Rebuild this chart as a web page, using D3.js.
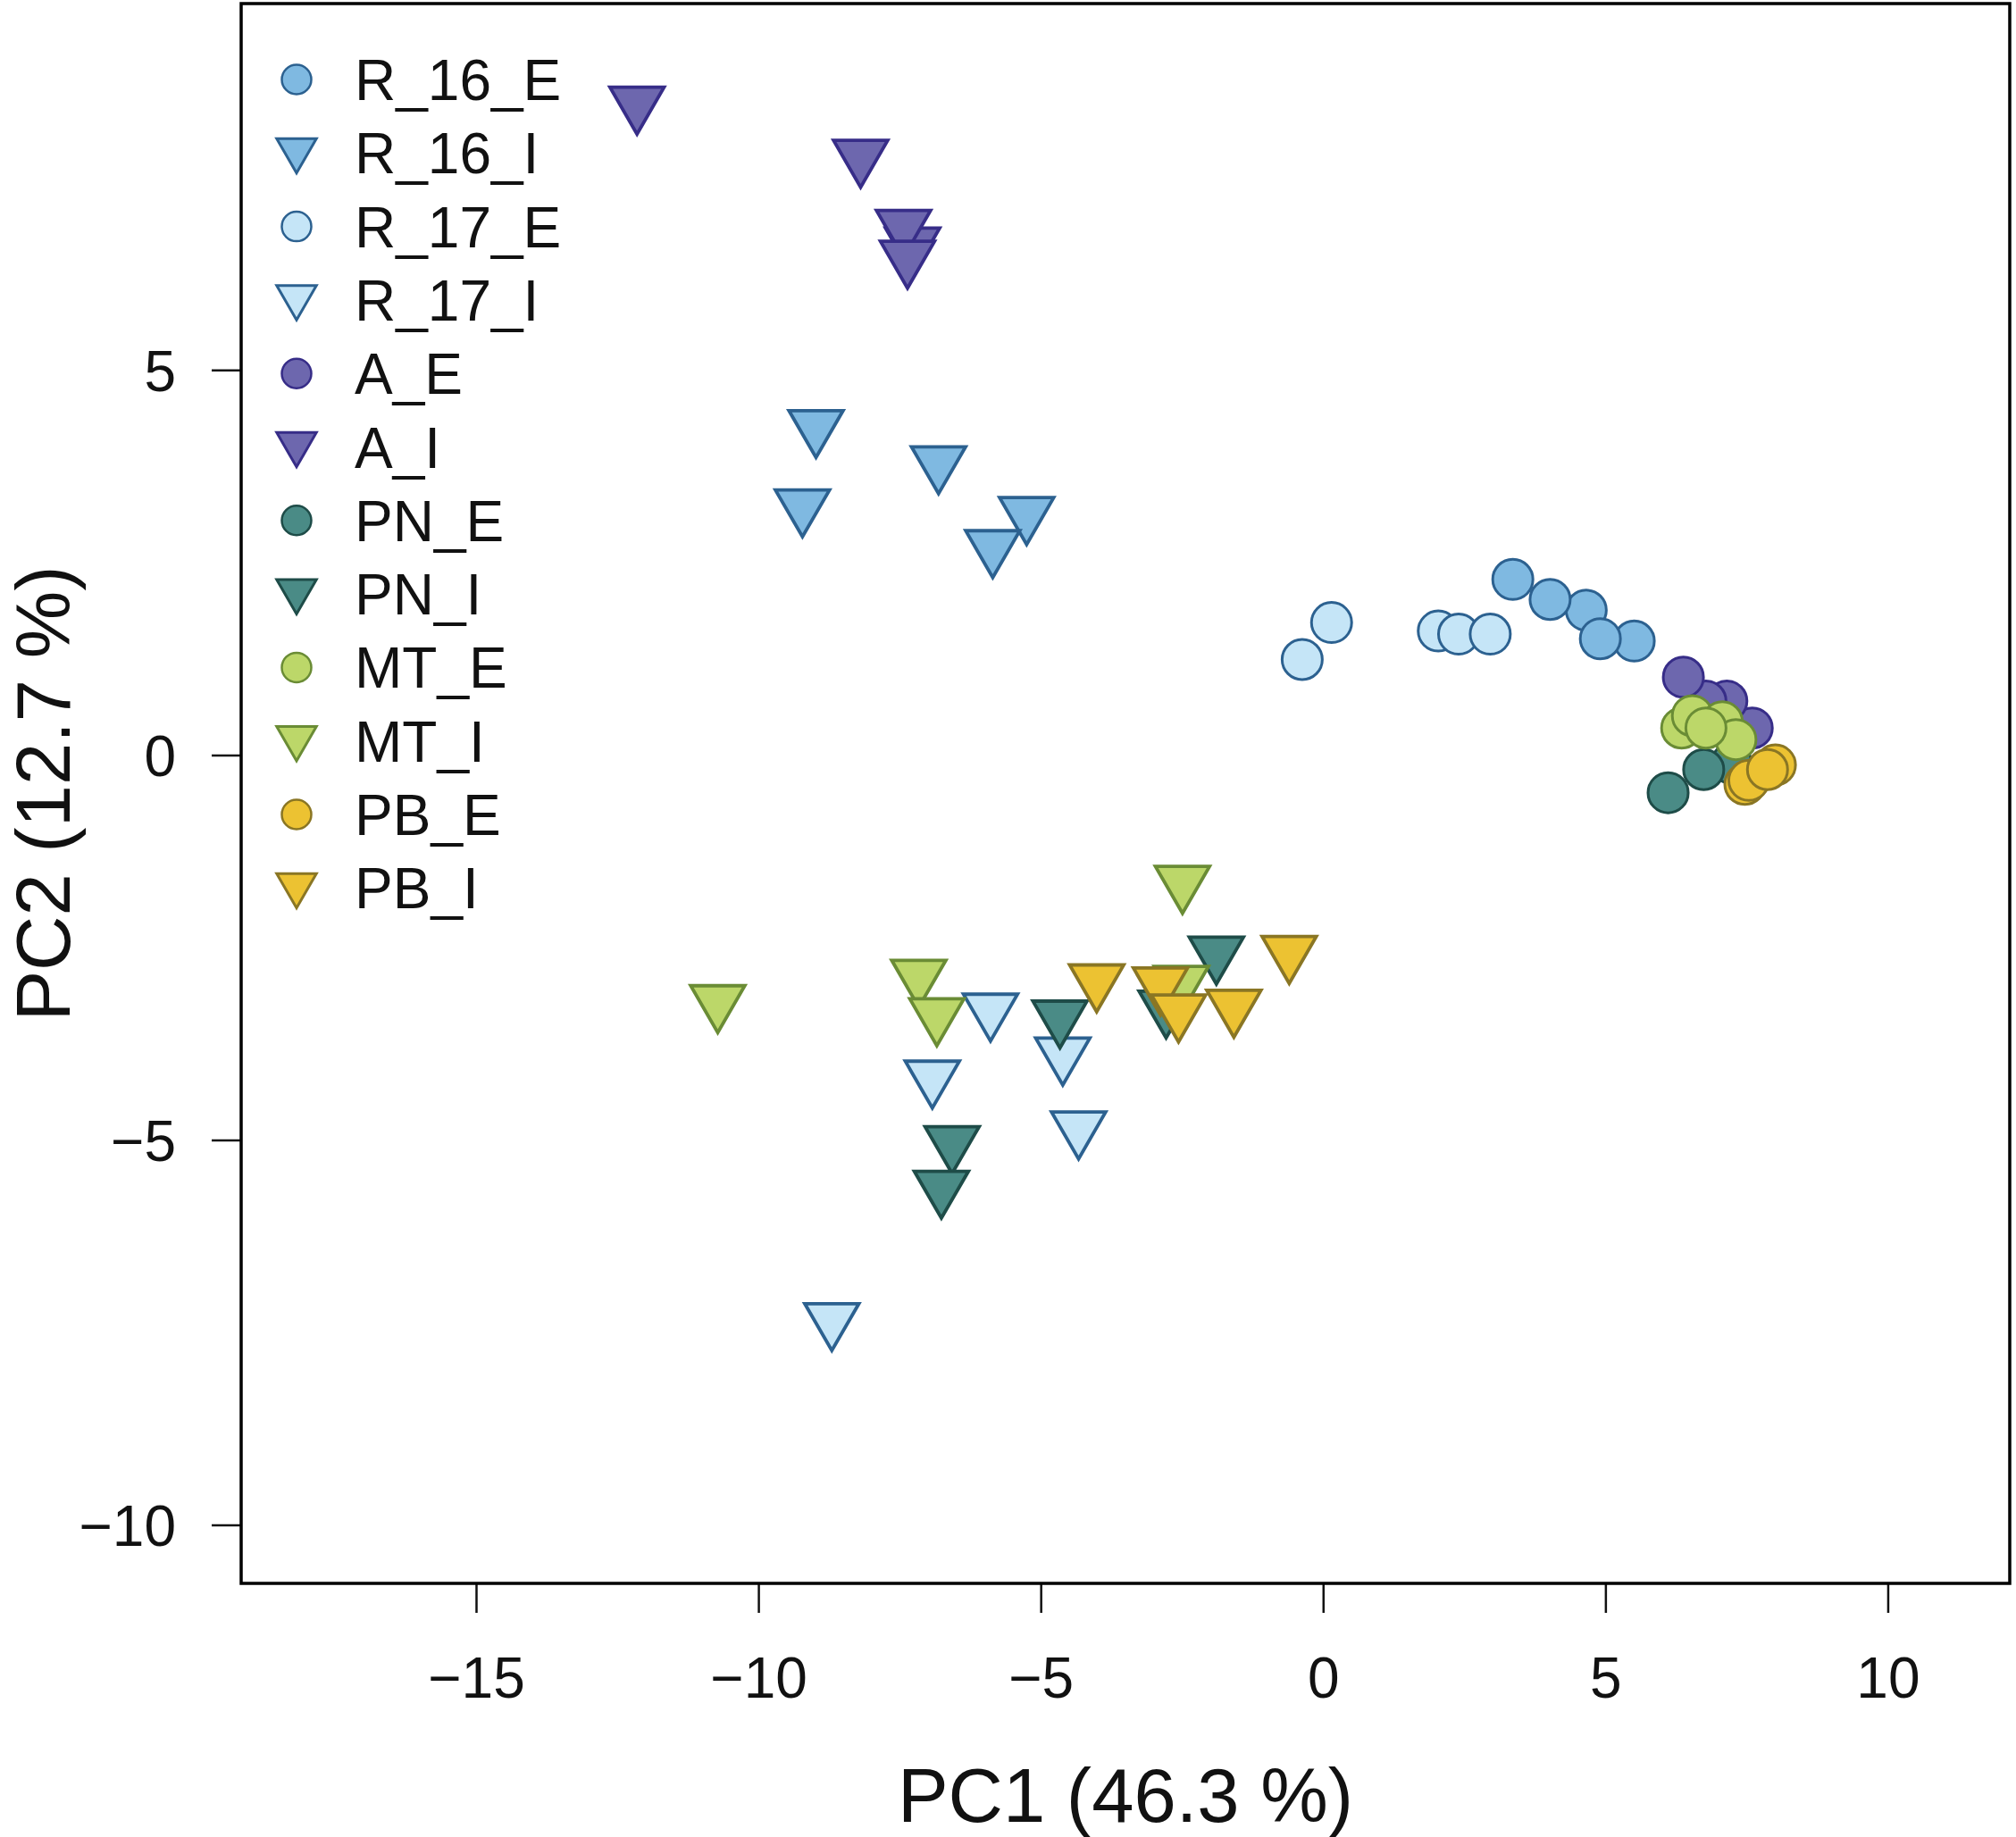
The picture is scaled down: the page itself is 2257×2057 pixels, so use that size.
<!DOCTYPE html>
<html lang="en">
<head>
    <meta charset="UTF-8">
    <title>PCA plot</title>
    <script src="https://cdnjs.cloudflare.com/ajax/libs/d3/7.8.5/d3.min.js"></script>
    <style>
        body {
            margin: 0;
            padding: 0;
            background: #fff;
        }
        svg {
            display: block;
            font-family: "Liberation Sans", Arial, sans-serif;
        }
        .tick text {
            font-size: 64px;
            fill: #111;
        }
        .tick line {
            stroke: #111;
            stroke-width: 2.5px;
        }
    </style>
</head>
<body>
    <svg width="2257" height="2057"></svg>
    <script>
        // sample groups, drawn in this order (legend order)
        const groups = ["R_16_E", "R_16_I", "R_17_E", "R_17_I", "A_E", "A_I",
                        "PN_E", "PN_I", "MT_E", "MT_I", "PB_E", "PB_I"];
        const fills   = ["#7fb9e1", "#7fb9e1", "#c5e5f7", "#c5e5f7", "#6d67ae", "#6d67ae",
                         "#4a8b86", "#4a8b86", "#bcd769", "#bcd769", "#ecc232", "#ecc232"];
        const strokes = ["#2c6190", "#2c6190", "#2c6190", "#2c6190", "#372d88", "#372d88",
                         "#1e4c48", "#1e4c48", "#6a8c35", "#6a8c35", "#8a7624", "#8a7624"];

        // [PC1, PC2] per group
        const R_16_E = [[3.36, 2.28], [4.66, 1.88], [4.02, 2.02], [5.51, 1.48], [4.91, 1.51]];
        const R_16_I = [[-8.98, 4.27], [-9.22, 3.24], [-6.81, 3.80], [-5.25, 3.14], [-5.85, 2.71]];
        const R_17_E = [[-0.37, 1.24], [0.15, 1.72], [2.04, 1.61], [2.40, 1.57], [2.96, 1.57]];
        const R_17_I = [[-5.89, -3.31], [-6.92, -4.18], [-4.61, -3.88], [-4.33, -4.84], [-8.70, -7.33]];
        const A_E    = [[7.60, 0.35], [7.15, 0.70], [6.78, 0.70], [6.38, 1.01]];
        const A_I    = [[-12.15, 8.47], [-8.19, 7.78], [-7.27, 6.64], [-7.43, 6.87], [-7.36, 6.47]];
        const PN_E   = [[7.23, -0.11], [6.74, -0.19], [6.11, -0.49]];
        const PN_I   = [[-4.66, -3.40], [-6.57, -5.03], [-6.76, -5.61], [-1.89, -2.57], [-2.78, -3.27]];
        const MT_E   = [[6.35, 0.35], [6.54, 0.51], [7.07, 0.43], [7.31, 0.20], [6.78, 0.35]];
        const MT_I   = [[-10.72, -3.20], [-7.16, -2.87], [-6.84, -3.37], [-2.49, -1.65], [-2.51, -2.95]];
        const PB_E   = [[7.47, -0.38], [7.54, -0.33], [8.01, -0.13], [7.87, -0.19]];
        const PB_I   = [[-4.01, -2.93], [-2.88, -2.97], [-2.56, -3.32], [-1.58, -3.26], [-0.60, -2.56]];
        const groupData = [R_16_E, R_16_I, R_17_E, R_17_I, A_E, A_I, PN_E, PN_I, MT_E, MT_I, PB_E, PB_I];

        const xTicks = [-15, -10, -5, 0, 5, 10];
        const yTicks = [-10, -5, 0, 5];
        const xTitle = "PC1 (46.3 %)";
        const yTitle = "PC2 (12.7 %)";

        const plotLeft = 270, plotRight = 2250, plotTop = 4, plotBottom = 1773;

        const x = d3.scaleLinear().domain([-19.16, 12.16]).range([plotLeft, plotRight]);
        const y = d3.scaleLinear().domain([-10.76, 9.76]).range([plotBottom, plotTop]);

        const svg = d3.select("svg");

        // triangle pointing down, centred on its centroid (like R pch 25)
        function triPath(r) {
            const h = 1.5551 * r, w = 1.3468 * r, b = 0.7776 * r;
            return `M${-w},${-b}L${w},${-b}L0,${h}Z`;
        }
        const isTri = name => name.endsWith("_I");

        const xAxis = svg.append("g")
            .attr("transform", `translate(0,${plotBottom})`)
            .call(d3.axisBottom(x).tickValues(xTicks).tickSize(33).tickPadding(50));
        xAxis.select(".domain").remove();

        const yAxis = svg.append("g")
            .attr("transform", `translate(${plotLeft},0)`)
            .call(d3.axisLeft(y).tickValues(yTicks).tickSize(33).tickPadding(40));
        yAxis.select(".domain").remove();
        yAxis.selectAll("text").attr("dy", "0.36em");

        // points
        const plotR = 22.5;
        groups.forEach((g, i) => {
            const layer = svg.append("g");
            const pts = groupData[i];
            if (isTri(g)) {
                layer.selectAll("path")
                    .data(pts)
                    .enter().append("path")
                    .attr("d", triPath(plotR))
                    .attr("transform", d => `translate(${x(d[0])},${y(d[1])})`)
                    .attr("fill", fills[i])
                    .attr("stroke", strokes[i])
                    .attr("stroke-width", 3.8)
                    .attr("stroke-linejoin", "miter");
            } else {
                layer.selectAll("circle")
                    .data(pts)
                    .enter().append("circle")
                    .attr("cx", d => x(d[0]))
                    .attr("cy", d => y(d[1]))
                    .attr("r", plotR)
                    .attr("fill", fills[i])
                    .attr("stroke", strokes[i])
                    .attr("stroke-width", 3);
            }
        });

        // plot frame
        svg.append("rect")
            .attr("x", plotLeft)
            .attr("y", plotTop)
            .attr("width", plotRight - plotLeft)
            .attr("height", plotBottom - plotTop)
            .attr("fill", "none")
            .attr("stroke", "#000")
            .attr("stroke-width", 3.5);

        // legend
        const legR = 16.5, legX = 332, legY0 = 89, legStep = 82.3;
        const leg = svg.append("g")
            .selectAll("g")
            .data(groups)
            .enter().append("g")
            .attr("transform", (d, i) => `translate(${legX},${legY0 + i * legStep})`);

        leg.each(function (d, i) {
            const g = d3.select(this);
            if (isTri(d)) {
                g.append("path")
                    .attr("d", triPath(legR))
                    .attr("transform", `translate(0,${-0.2 * legR})`)
                    .attr("fill", fills[i])
                    .attr("stroke", strokes[i])
                    .attr("stroke-width", 3);
            } else {
                g.append("circle")
                    .attr("r", legR)
                    .attr("fill", fills[i])
                    .attr("stroke", strokes[i])
                    .attr("stroke-width", 2.5);
            }
        });

        leg.append("text")
            .attr("x", 65)
            .attr("y", 23)
            .attr("font-size", 64)
            .attr("fill", "#111")
            .text(d => d);

        // axis titles
        svg.append("text")
            .attr("x", (plotLeft + plotRight) / 2)
            .attr("y", 2040)
            .attr("text-anchor", "middle")
            .attr("font-size", 85)
            .attr("fill", "#111")
            .text(xTitle);

        svg.append("text")
            .attr("transform", `translate(78,${(plotTop + plotBottom) / 2}) rotate(-90)`)
            .attr("text-anchor", "middle")
            .attr("font-size", 85)
            .attr("fill", "#111")
            .text(yTitle);
    </script>
</body>
</html>
